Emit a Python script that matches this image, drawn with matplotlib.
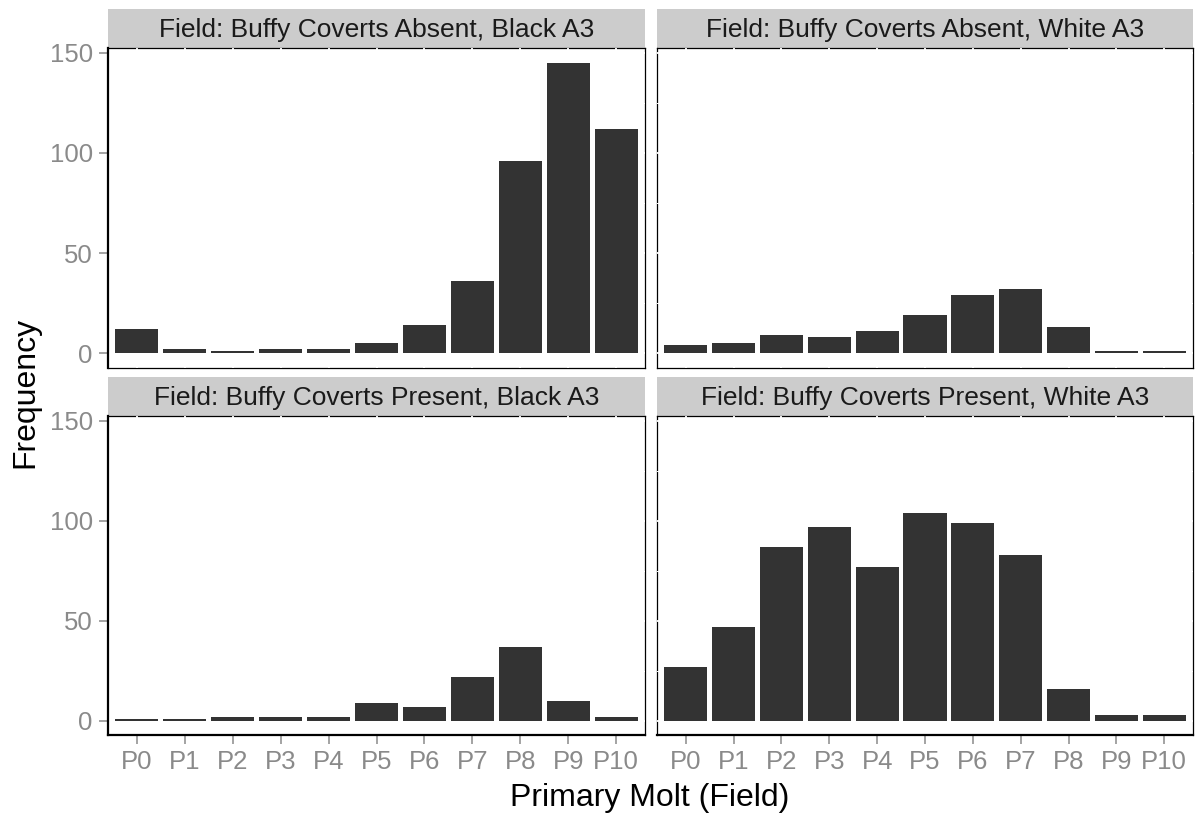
import numpy as np
import matplotlib
matplotlib.use("Agg")
import matplotlib.pyplot as plt
from matplotlib.ticker import FixedLocator

plt.rcParams['font.family'] = ['Liberation Sans', 'DejaVu Sans']

# molt score counts per facet
molt = ['P0', 'P1', 'P2', 'P3', 'P4', 'P5', 'P6', 'P7', 'P8', 'P9', 'P10']
absent_black = [12, 2, 1, 2, 2, 5, 14, 36, 96, 145, 112]
absent_white = [4, 5, 9, 8, 11, 19, 29, 32, 13, 1, 1]
present_black = [1, 1, 2, 2, 2, 9, 7, 22, 37, 10, 2]
present_white = [27, 47, 87, 97, 77, 104, 99, 83, 16, 3, 3]

titles = ['Field: Buffy Coverts Absent, Black A3',
          'Field: Buffy Coverts Absent, White A3',
          'Field: Buffy Coverts Present, Black A3',
          'Field: Buffy Coverts Present, White A3']
series = [absent_black, absent_white, present_black, present_white]

W, H = 1197, 819
fig = plt.figure(figsize=(W / 100, H / 100), dpi=100)

def box(x0, x1, y0, y1):
    # pixel box (from top-left) -> figure fraction rect
    return [x0 / W, 1 - y1 / H, (x1 - x0) / W, (y1 - y0) / H]

cols = [(108, 645), (657, 1193)]
rows = [(9, 48, 368), (377, 416, 735)]

grey_txt = '#8a8a8a'
x = np.arange(len(molt))

for i, (title, vals) in enumerate(zip(titles, series)):
    r, c = divmod(i, 2)
    x0, x1 = cols[c]
    s0, p0, p1 = rows[r]

    # strip
    sax = fig.add_axes(box(x0, x1, s0, p0))
    sax.set_facecolor('#cccccc')
    sax.set_xticks([]); sax.set_yticks([])
    for sp in sax.spines.values():
        sp.set_visible(False)
    sax.text(0.5, 0.47, title, ha='center', va='center', fontsize=19,
             color='#1a1a1a', transform=sax.transAxes)

    ax = fig.add_axes(box(x0, x1, p0, p1))
    ax.bar(x, vals, width=0.9, color='#333333', zorder=3)
    ax.set_xlim(-0.6, len(molt) - 0.4)
    ax.set_ylim(-7.25, 152.25)

    ax.set_xticks(x)
    ax.set_yticks([0, 50, 100, 150])
    ax.yaxis.set_minor_locator(FixedLocator([25, 75, 125]))
    ax.set_axisbelow('line')
    ax.grid(True, which='major', color='white', lw=1.3)
    ax.grid(True, which='minor', axis='y', color='white', lw=0.7)

    for sp in ax.spines.values():
        sp.set_color('black')
        sp.set_linewidth(0.9)
        sp.set_zorder(1)

    ax.tick_params(which='minor', length=0)
    ax.tick_params(which='major', length=6.5, width=1.1, color=grey_txt,
                   labelcolor=grey_txt, labelsize=18.5, pad=4.5)

    if c == 0:
        ax.set_yticklabels(['0', '50', '100', '150'])
        ax.spines['left'].set_linewidth(1.6)
        ax.spines['left'].set_zorder(4)
    else:
        ax.tick_params(axis='y', length=0, labelleft=False)
    if r == 1:
        ax.set_xticklabels(molt)
        ax.spines['bottom'].set_linewidth(1.6)
        ax.spines['bottom'].set_zorder(4)
    else:
        ax.tick_params(axis='x', length=0, labelbottom=False)

fig.text(650 / W, 1 - 798 / H, 'Primary Molt (Field)', ha='center', va='center',
         fontsize=23, color='black')
fig.text(25 / W, 1 - 392 / H, 'Frequency', ha='center', va='center',
         rotation=90, fontsize=23, color='black')

fig.savefig('out.png', dpi=100, facecolor='white')
